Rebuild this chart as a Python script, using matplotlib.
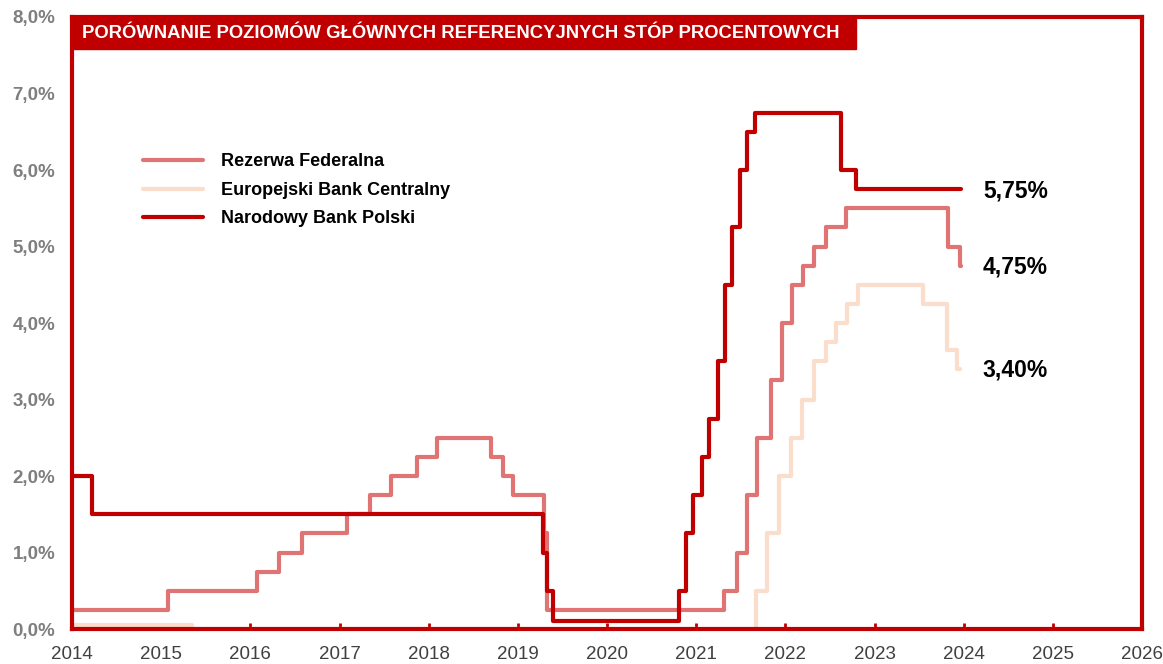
import numpy as np
import matplotlib
matplotlib.use('Agg')
import matplotlib.pyplot as plt
from matplotlib.patches import Rectangle

plt.rcParams['font.family'] = ['Liberation Sans', 'DejaVu Sans']

# rate changes: x = position on the chart's year axis, y = rate in % (held until next change)
fed_x = [2014.0, 2015.077, 2016.071, 2016.321, 2016.576, 2017.081, 2017.342, 2017.574,
         2017.866, 2018.09, 2018.699, 2018.837, 2018.949, 2019.297, 2019.33, 2021.317,
         2021.458, 2021.57, 2021.682, 2021.839, 2021.957, 2022.069, 2022.198, 2022.324,
         2022.45, 2022.677, 2023.82, 2023.958, 2023.965]
fed_y = [0.25, 0.5, 0.75, 1.0, 1.25, 1.5, 1.75, 2.0,
         2.25, 2.5, 2.25, 2.0, 1.75, 1.25, 0.25, 0.5,
         1.0, 1.75, 2.5, 3.25, 4.0, 4.5, 4.75, 5.0,
         5.25, 5.5, 5.0, 4.75, 4.75]

ecb_x = [2014.0, 2015.346, 2021.676, 2021.797, 2021.932, 2022.063, 2022.192, 2022.316,
         2022.452, 2022.568, 2022.686, 2022.818, 2023.54, 2023.809, 2023.921, 2023.958]
ecb_y = [0.05, 0.0, 0.5, 1.25, 2.0, 2.5, 3.0, 3.5,
         3.75, 4.0, 4.25, 4.5, 4.25, 3.65, 3.4, 3.4]

nbp_x = [2014.0, 2014.23, 2019.285, 2019.324, 2019.391, 2020.802, 2020.886, 2020.969,
         2021.065, 2021.143, 2021.239, 2021.323, 2021.402, 2021.49, 2021.575, 2021.66,
         2022.624, 2022.792, 2023.97]
nbp_y = [2.0, 1.5, 1.0, 0.5, 0.1, 0.5, 1.25, 1.75,
         2.25, 2.75, 3.5, 4.5, 5.25, 6.0, 6.5, 6.75,
         6.0, 5.75, 5.75]

labels = ['Rezerwa Federalna', 'Europejski Bank Centralny', 'Narodowy Bank Polski']
end_labels = ['4,75%', '3,40%', '5,75%']
years = list(range(2014, 2027))
yticks = np.arange(0, 9)

red = '#C00000'
fig = plt.figure(figsize=(11.63, 6.64), dpi=100)
ax = fig.add_axes([0.0619, 0.0527, 0.9201, 0.9217])

series = [(fed_x, fed_y, '#E07373'), (ecb_x, ecb_y, '#FADDCA'), (nbp_x, nbp_y, red)]
zs = [3, 2, 4]
for (x, y, c), lab, z in zip(series, labels, zs):
    ax.step(x, y, where='post', color=c, lw=3.0, label=lab, zorder=z,
            solid_capstyle='round')

for (x, y, c), txt in zip(series, end_labels):
    ax.annotate(txt, (x[-1], y[-1]), xytext=(16, -1), textcoords='offset points',
                va='center', ha='left', fontsize=16.5, fontweight='bold', color='black')

ax.set_xlim(2014, 2026)
ax.set_ylim(0, 8)
ax.set_xticks(years)
ax.set_xticklabels([str(y) for y in years], fontsize=13.5, color='#404040')
ax.set_yticks(yticks)
ax.set_yticklabels([f'{v:.1f}%'.replace('.', ',') for v in yticks],
                   fontsize=13.5, fontweight='bold', color='#7F7F7F')
ax.tick_params(axis='x', direction='in', length=4, width=2, color=red, pad=12)
ax.tick_params(axis='y', length=0, pad=12)
for s in ax.spines.values():
    s.set_color(red)
    s.set_linewidth(3)
    s.set_zorder(6)

# title bar
ax.add_patch(Rectangle((0, 0.947), 0.733, 0.053, transform=ax.transAxes,
                       color=red, clip_on=False, zorder=7))
ax.text(0.0095, 0.9735, 'PORÓWNANIE POZIOMÓW GŁÓWNYCH REFERENCYJNYCH STÓP PROCENTOWYCH',
        transform=ax.transAxes, color='white', fontsize=13.3, fontweight='bold',
        va='center', ha='left', zorder=8)

h, l = ax.get_legend_handles_labels()
leg = ax.legend(h, l, loc='upper left', bbox_to_anchor=(0.0664, 0.777), frameon=False,
                prop={'size': 13, 'weight': 'bold'}, handlelength=3.3, handletextpad=1.0,
                labelspacing=0.63, borderpad=0, borderaxespad=0)

fig.savefig('out.png', dpi=100)
